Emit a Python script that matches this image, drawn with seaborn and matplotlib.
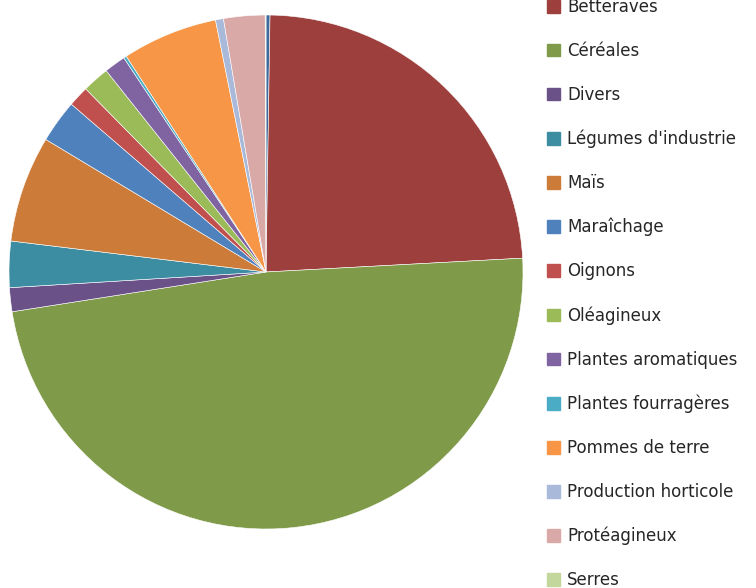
import matplotlib
matplotlib.use("Agg")
import matplotlib.pyplot as plt
import matplotlib.patches as mpatches
import seaborn as sns

# share of surface per crop type (%)
cultures = ["Arboriculture", "Betteraves", "Céréales", "Divers", "Légumes d'industrie",
            "Maïs", "Maraîchage", "Oignons", "Oléagineux", "Plantes aromatiques",
            "Plantes fourragères", "Pommes de terre", "Production horticole",
            "Protéagineux", "Serres"]
parts = [0.25, 23.9, 48.4, 1.5, 2.9, 6.7, 2.7, 1.3, 1.7, 1.35, 0.18, 6.0, 0.5, 2.6, 0.05]
couleurs = ["#3E6A9E", "#9C3F3D", "#7F9A48", "#6A5187", "#3D8DA2", "#CC7C38", "#4F81BD",
            "#C0504D", "#9BBB59", "#8064A2", "#4BACC6", "#F79646", "#A8B9D9", "#D9A9A8",
            "#C3D69B"]

sns.set_style("white")
plt.rcParams["font.family"] = ["DejaVu Sans"]

fig = plt.figure(figsize=(7.56, 5.88), dpi=100)
W, H = 756, 588
cx, cy, r = 266, 272, 257
ax = fig.add_axes([(cx - r) / W, (H - cy - r) / H, 2 * r / W, 2 * r / H])
ax.pie(parts, colors=couleurs, startangle=90, counterclock=False,
       wedgeprops=dict(edgecolor="white", linewidth=0.4))
ax.set_xlim(-1, 1)
ax.set_ylim(-1, 1)
ax.set_aspect("equal")
ax.axis("off")

# legend is cropped at the top like the original
handles = [mpatches.Patch(color=c, label=n) for c, n in zip(couleurs, cultures)]
fig.legend(handles=handles, loc="upper left", bbox_to_anchor=(547 / W, 1 + 46 / H),
           frameon=False, fontsize=12, labelspacing=1.555, handlelength=0.8,
           handleheight=0.8, handletextpad=0.4, borderpad=0, borderaxespad=0)

fig.savefig("out.png", dpi=100)
